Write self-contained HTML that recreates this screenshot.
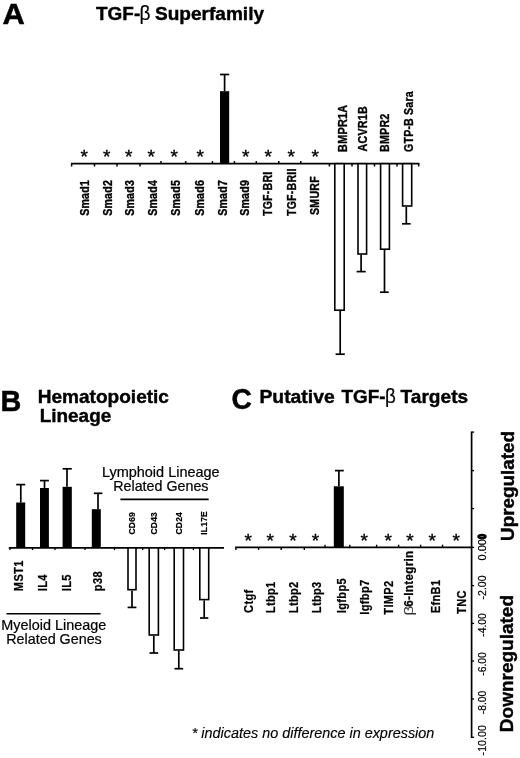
<!DOCTYPE html>
<html lang="en"><head><meta charset="utf-8"><title>Figure</title>
<style>
html,body{margin:0;padding:0;background:#fff;}
svg{display:block;}
text{font-family:"Liberation Sans", Arial, Helvetica, sans-serif;}
</style></head>
<body>
<svg width="520" height="758" viewBox="0 0 520 758">
<rect width="520" height="758" fill="#fff"/>
<line x1="71" y1="163.7" x2="419.4" y2="163.7" stroke="#000" stroke-width="1.8"/>
<line x1="71.6" y1="163.7" x2="71.6" y2="166.5" stroke="#000" stroke-width="1.5"/>
<line x1="94.5" y1="163.7" x2="94.5" y2="166.5" stroke="#000" stroke-width="1.5"/>
<line x1="117" y1="163.7" x2="117" y2="166.5" stroke="#000" stroke-width="1.5"/>
<line x1="140" y1="163.7" x2="140" y2="166.5" stroke="#000" stroke-width="1.5"/>
<line x1="161" y1="163.7" x2="161" y2="161.1" stroke="#000" stroke-width="1.5"/>
<line x1="185.7" y1="163.7" x2="185.7" y2="161.1" stroke="#000" stroke-width="1.5"/>
<line x1="212.4" y1="163.7" x2="212.4" y2="161.1" stroke="#000" stroke-width="1.5"/>
<line x1="234.4" y1="163.7" x2="234.4" y2="161.1" stroke="#000" stroke-width="1.5"/>
<line x1="256.3" y1="163.7" x2="256.3" y2="161.1" stroke="#000" stroke-width="1.5"/>
<line x1="278.8" y1="163.7" x2="278.8" y2="161.1" stroke="#000" stroke-width="1.5"/>
<line x1="300.8" y1="163.7" x2="300.8" y2="161.1" stroke="#000" stroke-width="1.5"/>
<line x1="329.4" y1="163.7" x2="329.4" y2="166.5" stroke="#000" stroke-width="1.5"/>
<line x1="352" y1="163.7" x2="352" y2="166.5" stroke="#000" stroke-width="1.5"/>
<line x1="374.5" y1="163.7" x2="374.5" y2="166.5" stroke="#000" stroke-width="1.5"/>
<line x1="397" y1="163.7" x2="397" y2="166.5" stroke="#000" stroke-width="1.5"/>
<line x1="418.7" y1="163.7" x2="418.7" y2="166.5" stroke="#000" stroke-width="1.5"/>
<text x="80.4" y="163.05" font-size="19" font-family='"DejaVu Sans", sans-serif' stroke="#000" stroke-width="0.4">*</text>
<text x="102.9" y="163.05" font-size="19" font-family='"DejaVu Sans", sans-serif' stroke="#000" stroke-width="0.4">*</text>
<text x="124.9" y="163.05" font-size="19" font-family='"DejaVu Sans", sans-serif' stroke="#000" stroke-width="0.4">*</text>
<text x="147.4" y="163.05" font-size="19" font-family='"DejaVu Sans", sans-serif' stroke="#000" stroke-width="0.4">*</text>
<text x="170.4" y="163.05" font-size="19" font-family='"DejaVu Sans", sans-serif' stroke="#000" stroke-width="0.4">*</text>
<text x="196.4" y="163.05" font-size="19" font-family='"DejaVu Sans", sans-serif' stroke="#000" stroke-width="0.4">*</text>
<text x="241.9" y="163.05" font-size="19" font-family='"DejaVu Sans", sans-serif' stroke="#000" stroke-width="0.4">*</text>
<text x="264.4" y="163.05" font-size="19" font-family='"DejaVu Sans", sans-serif' stroke="#000" stroke-width="0.4">*</text>
<text x="287.4" y="163.05" font-size="19" font-family='"DejaVu Sans", sans-serif' stroke="#000" stroke-width="0.4">*</text>
<text x="311.4" y="163.05" font-size="19" font-family='"DejaVu Sans", sans-serif' stroke="#000" stroke-width="0.4">*</text>
<rect x="220" y="91.2" width="9.2" height="72.5" fill="#000"/>
<line x1="224.6" y1="91.2" x2="224.6" y2="74.5" stroke="#000" stroke-width="1.7"/>
<line x1="220" y1="74.5" x2="229.2" y2="74.5" stroke="#000" stroke-width="1.7"/>
<rect x="334.8" y="163.7" width="9.4" height="146.5" fill="#fff" stroke="#000" stroke-width="1.6"/>
<line x1="340.2" y1="311" x2="340.2" y2="354.2" stroke="#000" stroke-width="1.7"/>
<line x1="335.6" y1="354.2" x2="344.8" y2="354.2" stroke="#000" stroke-width="1.7"/>
<rect x="358.0" y="163.7" width="8.6" height="90.3" fill="#fff" stroke="#000" stroke-width="1.6"/>
<line x1="361.1" y1="254.8" x2="361.1" y2="271.6" stroke="#000" stroke-width="1.7"/>
<line x1="356.6" y1="271.6" x2="365.7" y2="271.6" stroke="#000" stroke-width="1.7"/>
<rect x="380.6" y="163.7" width="8.8" height="85.5" fill="#fff" stroke="#000" stroke-width="1.6"/>
<line x1="384.5" y1="250" x2="384.5" y2="292.2" stroke="#000" stroke-width="1.7"/>
<line x1="380" y1="292.2" x2="388.7" y2="292.2" stroke="#000" stroke-width="1.7"/>
<rect x="402.6" y="163.7" width="9.1" height="42.3" fill="#fff" stroke="#000" stroke-width="1.6"/>
<line x1="406.3" y1="206.8" x2="406.3" y2="223.8" stroke="#000" stroke-width="1.7"/>
<line x1="402" y1="223.8" x2="410.6" y2="223.8" stroke="#000" stroke-width="1.7"/>
<line x1="8.8" y1="547.9" x2="224" y2="547.9" stroke="#000" stroke-width="1.8"/>
<line x1="10" y1="547.9" x2="10" y2="550.1" stroke="#000" stroke-width="1.3"/>
<line x1="32.5" y1="547.9" x2="32.5" y2="550.1" stroke="#000" stroke-width="1.3"/>
<line x1="55" y1="547.9" x2="55" y2="550.1" stroke="#000" stroke-width="1.3"/>
<line x1="85" y1="547.9" x2="85" y2="550.1" stroke="#000" stroke-width="1.3"/>
<line x1="114.5" y1="547.9" x2="114.5" y2="550.1" stroke="#000" stroke-width="1.3"/>
<line x1="142.7" y1="547.9" x2="142.7" y2="550.1" stroke="#000" stroke-width="1.3"/>
<line x1="164.6" y1="547.9" x2="164.6" y2="550.1" stroke="#000" stroke-width="1.3"/>
<line x1="193.4" y1="547.9" x2="193.4" y2="550.1" stroke="#000" stroke-width="1.3"/>
<rect x="16.2" y="502.5" width="9.0" height="45.4" fill="#000"/>
<line x1="20.8" y1="502.5" x2="20.8" y2="484.6" stroke="#000" stroke-width="1.7"/>
<line x1="16.2" y1="484.6" x2="25.2" y2="484.6" stroke="#000" stroke-width="1.7"/>
<rect x="40" y="488" width="8.9" height="59.9" fill="#000"/>
<line x1="44.5" y1="488" x2="44.5" y2="480.6" stroke="#000" stroke-width="1.7"/>
<line x1="40" y1="480.6" x2="48.9" y2="480.6" stroke="#000" stroke-width="1.7"/>
<rect x="62.6" y="486.8" width="9.2" height="61.1" fill="#000"/>
<line x1="67" y1="486.8" x2="67" y2="468.8" stroke="#000" stroke-width="1.7"/>
<line x1="62.6" y1="468.8" x2="71.8" y2="468.8" stroke="#000" stroke-width="1.7"/>
<rect x="91.8" y="509.2" width="9.0" height="38.7" fill="#000"/>
<line x1="98" y1="509.2" x2="98" y2="493.3" stroke="#000" stroke-width="1.7"/>
<line x1="93.8" y1="493.3" x2="102.4" y2="493.3" stroke="#000" stroke-width="1.7"/>
<line x1="120.4" y1="499.4" x2="208.7" y2="499.4" stroke="#000" stroke-width="1.6"/>
<rect x="128.0" y="547.9" width="8.0" height="41.8" fill="#fff" stroke="#000" stroke-width="1.6"/>
<line x1="132" y1="590.5" x2="132" y2="607.4" stroke="#000" stroke-width="1.7"/>
<line x1="127.6" y1="607.4" x2="136.4" y2="607.4" stroke="#000" stroke-width="1.7"/>
<rect x="149.2" y="547.9" width="9.2" height="87.1" fill="#fff" stroke="#000" stroke-width="1.6"/>
<line x1="153.8" y1="635.8" x2="153.8" y2="653" stroke="#000" stroke-width="1.7"/>
<line x1="149.5" y1="653" x2="158.2" y2="653" stroke="#000" stroke-width="1.7"/>
<rect x="174.2" y="547.9" width="9.3" height="102.1" fill="#fff" stroke="#000" stroke-width="1.6"/>
<line x1="178.8" y1="650.8" x2="178.8" y2="668.7" stroke="#000" stroke-width="1.7"/>
<line x1="174.5" y1="668.7" x2="183.2" y2="668.7" stroke="#000" stroke-width="1.7"/>
<rect x="199.8" y="547.9" width="8.9" height="51.7" fill="#fff" stroke="#000" stroke-width="1.6"/>
<line x1="204.2" y1="600.4" x2="204.2" y2="618" stroke="#000" stroke-width="1.7"/>
<line x1="200" y1="618" x2="208.3" y2="618" stroke="#000" stroke-width="1.7"/>
<line x1="6.5" y1="613.8" x2="100.6" y2="613.8" stroke="#000" stroke-width="1.6"/>
<line x1="235.2" y1="547.3" x2="471.6" y2="547.3" stroke="#000" stroke-width="1.8"/>
<line x1="235.9" y1="547.3" x2="235.9" y2="549.9" stroke="#000" stroke-width="1.4"/>
<line x1="258.6" y1="547.3" x2="258.6" y2="549.9" stroke="#000" stroke-width="1.4"/>
<line x1="281.2" y1="547.3" x2="281.2" y2="549.9" stroke="#000" stroke-width="1.4"/>
<line x1="304.3" y1="547.3" x2="304.3" y2="549.9" stroke="#000" stroke-width="1.4"/>
<line x1="325" y1="547.3" x2="325" y2="544.6999999999999" stroke="#000" stroke-width="1.4"/>
<line x1="349.8" y1="547.3" x2="349.8" y2="544.6999999999999" stroke="#000" stroke-width="1.4"/>
<line x1="376.6" y1="547.3" x2="376.6" y2="544.6999999999999" stroke="#000" stroke-width="1.4"/>
<line x1="398.6" y1="547.3" x2="398.6" y2="544.6999999999999" stroke="#000" stroke-width="1.4"/>
<line x1="420.6" y1="547.3" x2="420.6" y2="544.6999999999999" stroke="#000" stroke-width="1.4"/>
<line x1="442.6" y1="547.3" x2="442.6" y2="544.6999999999999" stroke="#000" stroke-width="1.4"/>
<rect x="333.8" y="486.3" width="10.0" height="61.0" fill="#000"/>
<line x1="338.9" y1="486.3" x2="338.9" y2="470.6" stroke="#000" stroke-width="1.7"/>
<line x1="335" y1="470.6" x2="343.8" y2="470.6" stroke="#000" stroke-width="1.7"/>
<text x="244.4" y="547.05" font-size="19" font-family='"DejaVu Sans", sans-serif' stroke="#000" stroke-width="0.4">*</text>
<text x="266.6" y="547.05" font-size="19" font-family='"DejaVu Sans", sans-serif' stroke="#000" stroke-width="0.4">*</text>
<text x="289.2" y="547.05" font-size="19" font-family='"DejaVu Sans", sans-serif' stroke="#000" stroke-width="0.4">*</text>
<text x="311.7" y="547.05" font-size="19" font-family='"DejaVu Sans", sans-serif' stroke="#000" stroke-width="0.4">*</text>
<text x="360.5" y="546.55" font-size="19" font-family='"DejaVu Sans", sans-serif' stroke="#000" stroke-width="0.4">*</text>
<text x="384.4" y="546.55" font-size="19" font-family='"DejaVu Sans", sans-serif' stroke="#000" stroke-width="0.4">*</text>
<text x="428.6" y="546.55" font-size="19" font-family='"DejaVu Sans", sans-serif' stroke="#000" stroke-width="0.4">*</text>
<text x="452.4" y="546.55" font-size="19" font-family='"DejaVu Sans", sans-serif' stroke="#000" stroke-width="0.4">*</text>
<text x="406.2" y="547.45" font-size="19" font-family='"DejaVu Sans", sans-serif' stroke="#000" stroke-width="0.4">*</text>
<line x1="471.6" y1="431.4" x2="471.6" y2="738" stroke="#000" stroke-width="1.7"/>
<line x1="471.6" y1="432.1" x2="474.1" y2="432.1" stroke="#000" stroke-width="1.3"/>
<line x1="471.6" y1="470.6" x2="474.1" y2="470.6" stroke="#000" stroke-width="1.3"/>
<line x1="471.6" y1="508.6" x2="474.1" y2="508.6" stroke="#000" stroke-width="1.3"/>
<line x1="471.6" y1="547.3" x2="474.1" y2="547.3" stroke="#000" stroke-width="1.3"/>
<line x1="471.6" y1="585.6" x2="474.1" y2="585.6" stroke="#000" stroke-width="1.3"/>
<line x1="471.6" y1="623.4" x2="474.1" y2="623.4" stroke="#000" stroke-width="1.3"/>
<line x1="471.6" y1="661" x2="474.1" y2="661" stroke="#000" stroke-width="1.3"/>
<line x1="471.6" y1="699" x2="474.1" y2="699" stroke="#000" stroke-width="1.3"/>
<line x1="471.6" y1="737.3" x2="474.1" y2="737.3" stroke="#000" stroke-width="1.3"/>
<text transform="translate(2.38 23.5) scale(1.0420 1.0)" font-size="29.6" font-weight="bold" stroke="#000" stroke-width="0.5">A</text>
<text transform="translate(96.05 19.6) scale(1.0246 1.0)" font-size="18.5" font-weight="bold" stroke="#000" stroke-width="0.4">TGF-</text>
<text transform="translate(139.41 19.6) scale(0.9512 1.0)" font-size="20" font-family='"Liberation Serif", "DejaVu Serif", serif' stroke="#000" stroke-width="0.2">β</text>
<text transform="translate(154.99 19.6) scale(1.0308 1.0)" font-size="18.5" font-weight="bold" stroke="#000" stroke-width="0.4">Superfamily</text>
<text transform="translate(88.7 215.85) rotate(-90) scale(1.0000 1.12)" font-size="10.6" font-weight="bold" letter-spacing="0.22" stroke="#000" stroke-width="0.3">Smad1</text>
<text transform="translate(111.7 215.85) rotate(-90) scale(1.0000 1.12)" font-size="10.6" font-weight="bold" letter-spacing="0.22" stroke="#000" stroke-width="0.3">Smad2</text>
<text transform="translate(133.7 215.85) rotate(-90) scale(1.0000 1.12)" font-size="10.6" font-weight="bold" letter-spacing="0.22" stroke="#000" stroke-width="0.3">Smad3</text>
<text transform="translate(157.3 215.85) rotate(-90) scale(1.0000 1.12)" font-size="10.6" font-weight="bold" letter-spacing="0.22" stroke="#000" stroke-width="0.3">Smad4</text>
<text transform="translate(180.3 215.85) rotate(-90) scale(1.0000 1.12)" font-size="10.6" font-weight="bold" letter-spacing="0.22" stroke="#000" stroke-width="0.3">Smad5</text>
<text transform="translate(204 215.85) rotate(-90) scale(1.0000 1.12)" font-size="10.6" font-weight="bold" letter-spacing="0.22" stroke="#000" stroke-width="0.3">Smad6</text>
<text transform="translate(227 215.85) rotate(-90) scale(1.0000 1.12)" font-size="10.6" font-weight="bold" letter-spacing="0.22" stroke="#000" stroke-width="0.3">Smad7</text>
<text transform="translate(249.3 215.85) rotate(-90) scale(1.0000 1.12)" font-size="10.6" font-weight="bold" letter-spacing="0.22" stroke="#000" stroke-width="0.3">Smad9</text>
<text transform="translate(272.3 216.05) rotate(-90) scale(1.0000 1.12)" font-size="10.6" font-weight="bold" letter-spacing="0.22" stroke="#000" stroke-width="0.3">TGF-BRI</text>
<text transform="translate(295.7 216.05) rotate(-90) scale(1.0000 1.12)" font-size="10.6" font-weight="bold" letter-spacing="0.22" stroke="#000" stroke-width="0.3">TGF-BRII</text>
<text transform="translate(318.5 214.95) rotate(-90) scale(1.0000 1.12)" font-size="10.6" font-weight="bold" letter-spacing="0.22" stroke="#000" stroke-width="0.3">SMURF</text>
<text transform="translate(346.7 151.92) rotate(-90) scale(1.0277 1.12)" font-size="10.6" font-weight="bold" letter-spacing="0.22" stroke="#000" stroke-width="0.3">BMPR1A</text>
<text transform="translate(367.1 151.40) rotate(-90) scale(1.0090 1.12)" font-size="10.6" font-weight="bold" letter-spacing="0.22" stroke="#000" stroke-width="0.3">ACVR1B</text>
<text transform="translate(388.7 151.90) rotate(-90) scale(1.0067 1.12)" font-size="10.6" font-weight="bold" letter-spacing="0.22" stroke="#000" stroke-width="0.3">BMPR2</text>
<text transform="translate(413.1 151.95) rotate(-90) scale(0.9967 1.12)" font-size="10.6" font-weight="bold" letter-spacing="0.22" stroke="#000" stroke-width="0.3">GTP-B Sara</text>
<text transform="translate(0.47 410.7) scale(0.9863 1.0)" font-size="29.2" font-weight="bold" stroke="#000" stroke-width="0.5">B</text>
<text transform="translate(37.72 402.8) scale(1.0305 1.0)" font-size="18.5" font-weight="bold" stroke="#000" stroke-width="0.4">Hematopoietic</text>
<text transform="translate(39.73 421.9) scale(1.0234 1.0)" font-size="18.5" font-weight="bold" stroke="#000" stroke-width="0.4">Lineage</text>
<text transform="translate(101.93 477.2) scale(1.0193 1.0)" font-size="14.2" stroke="#000" stroke-width="0.2">Lymphoid Lineage</text>
<text transform="translate(113.24 491.1) scale(1.0064 1.0)" font-size="14.2" stroke="#000" stroke-width="0.2">Related Genes</text>
<text transform="translate(134.7 534.47) rotate(-90) scale(1.0000 1.15)" font-size="8.5" font-weight="bold" letter-spacing="0.2" stroke="#000" stroke-width="0.15">CD69</text>
<text transform="translate(157.1 534.47) rotate(-90) scale(1.0000 1.15)" font-size="8.5" font-weight="bold" letter-spacing="0.2" stroke="#000" stroke-width="0.15">CD43</text>
<text transform="translate(182.1 534.47) rotate(-90) scale(1.0000 1.15)" font-size="8.5" font-weight="bold" letter-spacing="0.2" stroke="#000" stroke-width="0.15">CD24</text>
<text transform="translate(207.2 534.72) rotate(-90) scale(1.0000 1.15)" font-size="8.5" font-weight="bold" letter-spacing="0.2" stroke="#000" stroke-width="0.15">IL17E</text>
<text transform="translate(23.3 591.14) rotate(-90) scale(1.0000 1.1)" font-size="11.1" font-weight="bold" letter-spacing="0.3" stroke="#000" stroke-width="0.22">MST1</text>
<text transform="translate(46.5 591.14) rotate(-90) scale(1.0000 1.1)" font-size="11.1" font-weight="bold" letter-spacing="0.3" stroke="#000" stroke-width="0.22">IL4</text>
<text transform="translate(70.9 591.14) rotate(-90) scale(1.0000 1.1)" font-size="11.1" font-weight="bold" letter-spacing="0.3" stroke="#000" stroke-width="0.22">IL5</text>
<text transform="translate(101.5 591.14) rotate(-90) scale(1.0000 1.1)" font-size="11.1" font-weight="bold" letter-spacing="0.3" stroke="#000" stroke-width="0.22">p38</text>
<text transform="translate(1.33 630) scale(1.0157 1.0)" font-size="14.2" stroke="#000" stroke-width="0.2">Myeloid Lineage</text>
<text transform="translate(6.24 644) scale(1.0097 1.0)" font-size="14.2" stroke="#000" stroke-width="0.2">Related Genes</text>
<text transform="translate(231.54 408.5) scale(0.9641 1.0)" font-size="29.2" font-weight="bold" stroke="#000" stroke-width="0.5">C</text>
<text transform="translate(259.40 402.9) scale(1.0469 1.0)" font-size="18.5" font-weight="bold" stroke="#000" stroke-width="0.4">Putative</text>
<text transform="translate(341.45 402.9) scale(1.0246 1.0)" font-size="18.5" font-weight="bold" stroke="#000" stroke-width="0.4">TGF-</text>
<text transform="translate(385.12 402.9) scale(0.9390 1.0)" font-size="20" font-family='"Liberation Serif", "DejaVu Serif", serif' stroke="#000" stroke-width="0.2">β</text>
<text transform="translate(400.55 402.9) scale(1.0324 1.0)" font-size="18.5" font-weight="bold" stroke="#000" stroke-width="0.4">Targets</text>
<text transform="translate(253.3 612.89) rotate(-90) scale(1.0000 1.1)" font-size="11.1" font-weight="bold" letter-spacing="0.3" stroke="#000" stroke-width="0.22">Ctgf</text>
<text transform="translate(275.2 613.14) rotate(-90) scale(1.0000 1.1)" font-size="11.1" font-weight="bold" letter-spacing="0.3" stroke="#000" stroke-width="0.22">Ltbp1</text>
<text transform="translate(297.5 613.14) rotate(-90) scale(1.0000 1.1)" font-size="11.1" font-weight="bold" letter-spacing="0.3" stroke="#000" stroke-width="0.22">Ltbp2</text>
<text transform="translate(321.2 613.14) rotate(-90) scale(1.0000 1.1)" font-size="11.1" font-weight="bold" letter-spacing="0.3" stroke="#000" stroke-width="0.22">Ltbp3</text>
<text transform="translate(345.6 613.14) rotate(-90) scale(1.0000 1.1)" font-size="11.1" font-weight="bold" letter-spacing="0.3" stroke="#000" stroke-width="0.22">Igfbp5</text>
<text transform="translate(369.4 614.64) rotate(-90) scale(1.0000 1.1)" font-size="11.1" font-weight="bold" letter-spacing="0.3" stroke="#000" stroke-width="0.22">Igfbp7</text>
<text transform="translate(392.5 614.64) rotate(-90) scale(1.0000 1.1)" font-size="11.1" font-weight="bold" letter-spacing="0.3" stroke="#000" stroke-width="0.22">TIMP2</text>
<text transform="translate(440.4 613.14) rotate(-90) scale(1.0000 1.1)" font-size="11.1" font-weight="bold" letter-spacing="0.3" stroke="#000" stroke-width="0.22">EfnB1</text>
<text transform="translate(465.5 613.94) rotate(-90) scale(1.0000 1.1)" font-size="11.1" font-weight="bold" letter-spacing="0.3" stroke="#000" stroke-width="0.22">TNC</text>
<text transform="translate(412.7 615.80) rotate(-90) scale(1.3273 1.0)" font-size="13.5" font-family='"Liberation Serif", "DejaVu Serif", serif' fill="#333">β</text>
<text transform="translate(412.7 606.71) rotate(-90) scale(1.0494 1.1)" font-size="11.1" font-weight="bold" letter-spacing="0.3" stroke="#000" stroke-width="0.22">6-Integrin</text>
<text transform="translate(486.2 560.41) rotate(-90) scale(1.0326 1.0)" font-size="10.6" stroke="#000" stroke-width="0.2">0.00</text>
<text transform="translate(486.2 599.40) rotate(-90) scale(0.9936 1.0)" font-size="10.6" stroke="#000" stroke-width="0.2">-2.00</text>
<text transform="translate(486.2 636.79) rotate(-90) scale(0.9808 1.0)" font-size="10.6" stroke="#000" stroke-width="0.2">-4.00</text>
<text transform="translate(486.2 675.69) rotate(-90) scale(0.9680 1.0)" font-size="10.6" stroke="#000" stroke-width="0.2">-6.00</text>
<text transform="translate(486.2 714.19) rotate(-90) scale(0.9723 1.0)" font-size="10.6" stroke="#000" stroke-width="0.2">-8.00</text>
<text transform="translate(486.2 755.40) rotate(-90) scale(1.0068 1.0)" font-size="10.6" stroke="#000" stroke-width="0.2">-10.00</text>
<text transform="translate(486.2 539.09) rotate(-90) scale(0.8308 1.0)" font-size="10.6" font-weight="bold" stroke="#000" stroke-width="1.5">0</text>
<text transform="translate(513.9 540.88) rotate(-90) scale(1.0000 1.0)" font-size="18.84" font-weight="bold" stroke="#000" stroke-width="0.4">Upregulated</text>
<text transform="translate(512.7 732.19) rotate(-90) scale(1.0000 1.0)" font-size="19.0" font-weight="bold" stroke="#000" stroke-width="0.4">Downregulated</text>
<text transform="translate(191.67 737.9) scale(1.0000 1.0)" font-size="14.42" font-style="italic" stroke="#000" stroke-width="0.15">* indicates no difference in expression</text>
</svg>
</body></html>
